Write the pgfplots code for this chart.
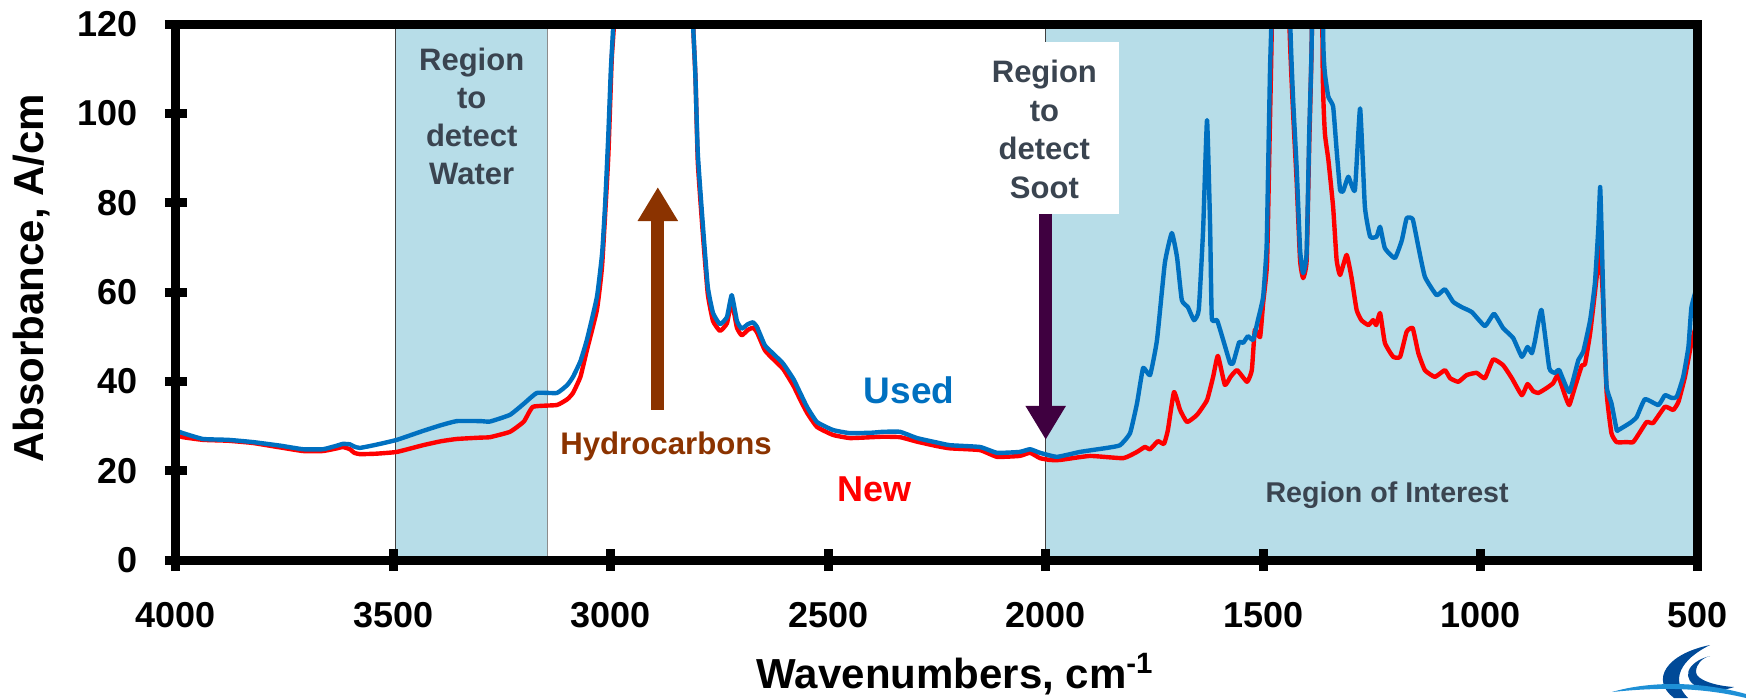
\documentclass[border=0pt]{standalone}
\usepackage{fontspec}
\setmainfont{Liberation Sans}
\usepackage{pgfplots}
\usepackage{pgfplotstable}
\pgfplotsset{compat=1.18}
\usetikzlibrary{arrows.meta}
\definecolor{usedblue}{HTML}{0070C0}
\definecolor{newred}{HTML}{FF0000}
\definecolor{regionfill}{HTML}{B7DDE8}
\definecolor{regtext}{HTML}{3A4450}
\definecolor{hcbrown}{HTML}{8B3300}
\definecolor{sootpurple}{HTML}{3F0040}
\definecolor{logodark}{HTML}{004A98}
\definecolor{logolight}{HTML}{1E90D6}

\pgfplotstableread{
wn a
4000 29.0
3984 28.4
3938 27.1
3880 26.9
3823 26.4
3760 25.6
3708 24.8
3662 24.8
3630 25.6
3616 26.0
3600 25.9
3590 25.4
3577 25.1
3540 25.8
3492 26.9
3432 28.9
3390 30.2
3354 31.1
3300 31.1
3278 31.0
3232 32.5
3200 35.0
3170 37.4
3124 37.4
3100 39.2
3087 41.0
3070 44.5
3055 49.3
3032 58.9
3020 68.7
3013 79.9
3006 94.7
3000 109.7
2995 118.7
2985 140
2950 200
2900 250
2850 200
2820 140
2811 120
2806 109.7
2800 91
2788 74.5
2777 61.1
2765 55.3
2749 52.8
2733 54.4
2722 59.3
2710 53.5
2699 51.8
2685 52.8
2673 53.2
2664 52.2
2646 48.1
2630 46.5
2604 44.0
2580 40.5
2565 37.5
2549 34.3
2526 30.9
2489 29.1
2450 28.4
2400 28.5
2374 28.7
2335 28.7
2296 27.3
2250 26.3
2220 25.7
2151 25.3
2112 24.0
2060 24.2
2036 24.8
2013 24.0
1974 23.1
1921 24.2
1859 25.1
1829 25.7
1806 28.4
1790 35.1
1776 43.0
1760 41.4
1744 49.3
1726 66.5
1710 73.2
1698 67.8
1687 58.2
1673 56.6
1659 53.7
1648 56.0
1638 73.9
1629 98.5
1622 75
1618 54.2
1606 53.7
1592 49.3
1576 44.1
1569 44.1
1555 48.8
1546 48.6
1535 50.1
1523 49.3
1512 53.7
1500 58.9
1492 70.1
1488 90
1484 110.4
1480 125
1470 200
1450 200
1438 122
1431 103
1423 88
1415 69.4
1408 64.2
1400 68.7
1394 95.6
1388 118
1380 200
1370 200
1362 118
1358 109
1350 103.7
1339 101.5
1331 91.8
1323 82.8
1316 82.6
1304 85.8
1289 82.8
1277 101.1
1266 79.1
1254 72.4
1239 72.4
1231 74.6
1220 69.8
1197 67.6
1181 71.6
1170 76.5
1156 76.3
1143 70.1
1128 63.4
1101 59.3
1082 60.6
1063 57.8
1043 56.6
1020 55.5
990 52.4
969 55.1
948 51.9
925 49.7
905 45.5
892 47.7
882 46.3
875 49.0
860 56.0
842 43.0
829 41.9
819 42.5
796 37.6
775 44.8
764 46.6
748 53.7
737 62.0
729 74.6
725 83.5
722 74.6
716 52.2
710 38.7
699 35.1
687 29.1
683 29.1
656 30.7
641 32.0
622 36.0
591 34.7
576 36.9
561 36.3
549 36.5
534 41.0
522 47.7
515 56.6
500 62.0
}\usedtab

\pgfplotstableread{
wn a
4000 28.0
3984 27.5
3938 26.9
3880 26.7
3823 26.2
3760 25.2
3708 24.4
3662 24.4
3630 25.0
3616 25.3
3600 24.8
3590 24.0
3577 23.7
3540 23.8
3492 24.2
3432 25.7
3390 26.6
3354 27.1
3300 27.4
3278 27.5
3232 28.7
3200 31.0
3179 34.3
3124 34.7
3100 36.0
3087 37.4
3070 41.0
3055 47.0
3032 56.0
3020 66.0
3006 90
2998 112
2990 125
2960 200
2900 250
2850 200
2820 140
2810 118
2805 107
2800 89
2788 72.5
2777 59.5
2765 53.5
2749 51.3
2733 53.0
2722 57.8
2710 52.0
2699 50.3
2685 51.5
2673 52.0
2664 51.0
2646 47.0
2630 45.3
2604 42.8
2580 39.0
2565 36.0
2549 33.0
2526 29.8
2489 28.0
2450 27.3
2400 27.5
2374 27.6
2335 27.5
2296 26.5
2250 25.5
2220 25.0
2151 24.6
2112 23.1
2060 23.3
2036 24.0
2013 22.8
1990 22.4
1967 22.4
1898 23.3
1822 22.8
1790 24.2
1772 25.3
1760 24.8
1742 26.6
1728 26.0
1719 29.1
1705 37.6
1691 33.6
1675 30.9
1652 32.5
1629 35.8
1615 41.0
1604 45.7
1588 39.2
1575 41.0
1560 42.5
1537 39.9
1526 42.5
1519 51.5
1507 49.9
1500 57.5
1491 66.5
1485 95
1480 120
1470 200
1450 200
1440 122
1431 100
1423 85
1415 67
1408 63.1
1400 67
1394 93
1388 118
1380 200
1370 200
1363 110
1358 95.6
1350 89.6
1339 79.0
1331 67.2
1323 63.8
1308 68.3
1297 63.4
1285 56.0
1274 53.7
1258 52.6
1247 53.7
1240 52.6
1231 55.3
1220 48.6
1201 45.5
1185 45.5
1170 51.1
1156 51.9
1143 46.3
1128 42.5
1105 41.0
1082 42.5
1070 40.7
1051 39.9
1032 41.4
1009 41.9
990 40.7
971 44.9
948 43.6
928 40.7
905 36.9
892 39.4
879 37.8
867 37.4
848 38.5
833 39.6
822 41.4
806 36.9
796 34.7
783 38.7
767 43.6
760 43.8
748 50.8
733 63.4
727 71.6
719 59.7
710 37.4
699 28.4
687 26.4
664 26.4
649 26.4
633 28.7
618 30.9
603 30.7
576 34.3
557 33.6
545 35.4
530 41.0
515 48.6
500 54.0
}\newtab

\begin{document}
\begin{tikzpicture}
\path[use as bounding box] (-88pt,-69pt) rectangle (785pt,280pt);
\begin{axis}[
  scale only axis, width=761pt, height=268pt,
  x dir=reverse, xmin=500, xmax=4000, ymin=0, ymax=120,
  xtick={500,1000,...,4000}, ytick={0,20,...,120},
  axis line style={line width=4.5pt},
  tick style={line width=4.5pt, black},
  major tick length=11pt, tick align=center,
  xtick pos=left, ytick pos=left,
  axis on top,
  clip mode=individual,
  /pgf/number format/.cd, assume math mode=true, 1000 sep={},
  /pgfplots/.cd,
  ticklabel style={font=\bfseries\fontsize{18}{20}\selectfont},
  xticklabel style={yshift=-12pt},
  yticklabel style={xshift=-10pt},
  xlabel={Wavenumbers, cm\textsuperscript{-1}},
  ylabel={Absorbance, A/cm},
  label style={font=\bfseries\fontsize{21}{24}\selectfont},
  xlabel style={at={(axis description cs:0.512,-0.213)}, anchor=center},
  ylabel style={at={(axis description cs:-0.095,0.526)}, anchor=center},
]
\fill[regionfill] (axis cs:3495,0) rectangle (axis cs:3145,120);
\draw[line width=0.6pt, black!75] (axis cs:3495,0) -- (axis cs:3495,120);
\draw[line width=0.6pt, black!45] (axis cs:3145,0) -- (axis cs:3145,120);
\fill[regionfill] (axis cs:2000,0) rectangle (axis cs:500,120);
\draw[line width=0.6pt, black!75] (axis cs:2000,0) -- (axis cs:2000,120);
\fill[white] (axis cs:2176,77.5) rectangle (axis cs:1831,116);

\addplot[newred, line width=2.2pt, line join=round, no marks, smooth, tension=0.25] table[x=wn,y=a] {\newtab};
\addplot[usedblue, line width=2.2pt, line join=round, no marks, smooth, tension=0.25] table[x=wn,y=a] {\usedtab};

\draw[hcbrown, line width=6.5pt, -{Triangle[width=19pt,length=17pt]}] (axis cs:2892,33.6) -- (axis cs:2892,83.5);
\draw[sootpurple, line width=6.5pt, -{Triangle[width=19pt,length=17pt]}] (axis cs:2000,77.5) -- (axis cs:2000,26.9);

\begin{scope}[every node/.style={font=\bfseries\fontsize{15.5}{19}\selectfont, text=regtext, anchor=base, inner sep=0pt}]
\node at (axis cs:3320,109.5) {Region};
\node at (axis cs:3320,101.0) {to};
\node at (axis cs:3320,92.5) {detect};
\node at (axis cs:3320,84.0) {Water};
\node at (axis cs:2003,106.8) {Region};
\node at (axis cs:2003,98.1) {to};
\node at (axis cs:2003,89.6) {detect};
\node at (axis cs:2003,81.0) {Soot};
\end{scope}
\node[font=\bfseries\fontsize{14.3}{17}\selectfont, text=regtext, anchor=base, inner sep=0pt] at (axis cs:1215,12.8) {Region of Interest};
\node[font=\bfseries\fontsize{18.5}{22}\selectfont, text=usedblue, anchor=base, inner sep=0pt] at (axis cs:2314,35.1) {Used};
\node[font=\bfseries\fontsize{18}{22}\selectfont, text=newred, anchor=base, inner sep=0pt] at (axis cs:2393,13.0) {New};
\node[font=\bfseries\fontsize{15.6}{19}\selectfont, text=hcbrown, anchor=base, inner sep=0pt] at (axis cs:2873,23.7) {Hydrocarbons};
\end{axis}
% logo (partially cut at the page edge)
\fill[logodark] (767pt,-42.5pt) .. controls (745pt,-47pt) and (737pt,-60pt) .. (749pt,-69pt) -- (756pt,-69pt) .. controls (747pt,-60pt) and (752pt,-50pt) .. (767pt,-42.5pt);
\fill[logodark] (767pt,-48pt) .. controls (755pt,-51pt) and (752pt,-60pt) .. (762pt,-64pt) .. controls (768pt,-66pt) and (775pt,-65pt) .. (779pt,-63.5pt) .. controls (770pt,-63pt) and (760pt,-60pt) .. (760pt,-56pt) .. controls (760pt,-52pt) and (763pt,-49pt) .. (767pt,-48pt);
\fill[logolight] (718pt,-66pt) .. controls (735pt,-61pt) and (760pt,-60pt) .. (785pt,-67pt) -- (785pt,-69pt) .. controls (760pt,-63pt) and (738pt,-64pt) .. (718pt,-66pt);
\end{tikzpicture}
\end{document}
